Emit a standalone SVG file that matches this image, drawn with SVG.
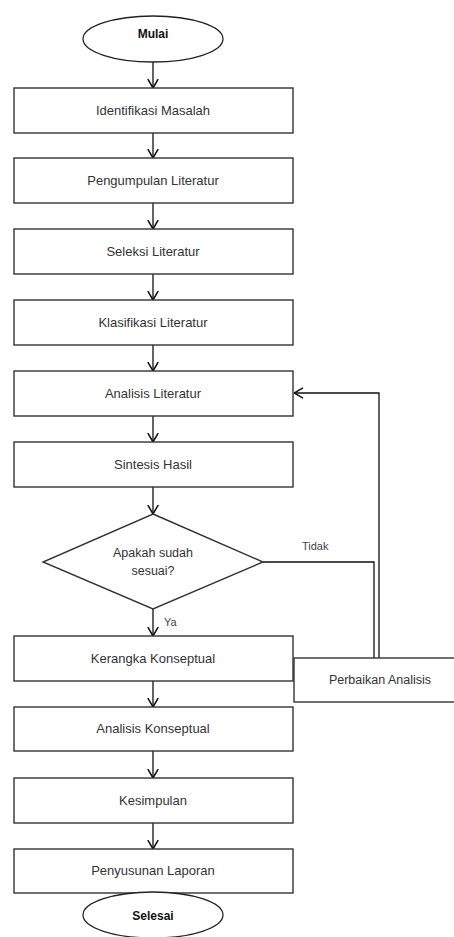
<svg xmlns="http://www.w3.org/2000/svg" width="454" height="937" viewBox="0 0 454 937">
<defs>
<style>
.box{fill:#fff;stroke:#333;stroke-width:1.4}
.term{fill:#fff;stroke:#222;stroke-width:1.3}
.lbl{font-family:"Liberation Sans",Arial,sans-serif;font-size:13px;fill:#333;text-anchor:middle}
.bold{font-family:"Liberation Sans",Arial,sans-serif;font-size:12px;font-weight:bold;fill:#111;text-anchor:middle}
.small{font-family:"Liberation Sans",Arial,sans-serif;font-size:11px;fill:#444}
.con{fill:none;stroke:#111;stroke-width:1.3}
</style>
<marker id="arr" viewBox="0 0 10 12" refX="9.5" refY="6" markerWidth="10" markerHeight="12" markerUnits="userSpaceOnUse" orient="auto">
<path d="M0.5,0.8 L9.5,6 L0.5,11.2" fill="none" stroke="#111" stroke-width="1.5"/>
</marker>
</defs>
<rect width="454" height="937" fill="#fff"/>
<g id="connectors">
<line class="con" x1="153" y1="62" x2="153" y2="88" marker-end="url(#arr)"/>
<line class="con" x1="153" y1="133" x2="153" y2="158" marker-end="url(#arr)"/>
<line class="con" x1="153" y1="203" x2="153" y2="229" marker-end="url(#arr)"/>
<line class="con" x1="153" y1="274" x2="153" y2="300" marker-end="url(#arr)"/>
<line class="con" x1="153" y1="345" x2="153" y2="371" marker-end="url(#arr)"/>
<line class="con" x1="153" y1="416" x2="153" y2="442" marker-end="url(#arr)"/>
<line class="con" x1="153" y1="487" x2="153" y2="514" marker-end="url(#arr)"/>
<line class="con" x1="153" y1="609" x2="153" y2="636" marker-end="url(#arr)"/>
<line class="con" x1="153" y1="681" x2="153" y2="707" marker-end="url(#arr)"/>
<line class="con" x1="153" y1="751" x2="153" y2="778" marker-end="url(#arr)"/>
<line class="con" x1="153" y1="823" x2="153" y2="849" marker-end="url(#arr)"/>
<polyline class="con" points="263,562 374,562 374,658"/>
<polyline class="con" points="379,658 379,393 294,393" marker-end="url(#arr)"/>
<text class="small" x="302" y="550">Tidak</text>
<text class="small" x="164" y="626">Ya</text>
</g>
<g id="mulai">
<ellipse class="term" cx="153" cy="39" rx="70" ry="23"/>
<text class="bold" x="153" y="38">Mulai</text>
</g>
<g id="identifikasi">
<rect class="box" x="14" y="88" width="279" height="45"/>
<text class="lbl" x="153" y="115">Identifikasi Masalah</text>
</g>
<g id="pengumpulan">
<rect class="box" x="14" y="158" width="279" height="45"/>
<text class="lbl" x="153" y="185">Pengumpulan Literatur</text>
</g>
<g id="seleksi">
<rect class="box" x="14" y="229" width="279" height="45"/>
<text class="lbl" x="153" y="256">Seleksi Literatur</text>
</g>
<g id="klasifikasi">
<rect class="box" x="14" y="300" width="279" height="45"/>
<text class="lbl" x="153" y="327">Klasifikasi Literatur</text>
</g>
<g id="analisis">
<rect class="box" x="14" y="371" width="279" height="45"/>
<text class="lbl" x="153" y="398">Analisis Literatur</text>
</g>
<g id="sintesis">
<rect class="box" x="14" y="442" width="279" height="45"/>
<text class="lbl" x="153" y="469">Sintesis Hasil</text>
</g>
<g id="keputusan">
<polygon class="box" points="153,514 263,562 153,609 43,562"/>
<text class="lbl" x="153" y="557" style="font-size:12.5px">Apakah sudah</text>
<text class="lbl" x="153" y="575" style="font-size:12.5px">sesuai?</text>
</g>
<g id="kerangka">
<rect class="box" x="14" y="636" width="279" height="45"/>
<text class="lbl" x="153" y="663">Kerangka Konseptual</text>
</g>
<g id="perbaikan">
<rect class="box" x="294" y="658" width="172" height="44"/>
<text class="lbl" x="380" y="684" style="font-size:12.5px">Perbaikan Analisis</text>
</g>
<g id="analisis-konseptual">
<rect class="box" x="14" y="707" width="279" height="44"/>
<text class="lbl" x="153" y="733">Analisis Konseptual</text>
</g>
<g id="kesimpulan">
<rect class="box" x="14" y="778" width="279" height="45"/>
<text class="lbl" x="153" y="805">Kesimpulan</text>
</g>
<g id="penyusunan">
<rect class="box" x="14" y="849" width="279" height="44"/>
<text class="lbl" x="153" y="875">Penyusunan Laporan</text>
</g>
<g id="selesai">
<ellipse class="term" cx="153" cy="915" rx="70" ry="23"/>
<text class="bold" x="153" y="920">Selesai</text>
</g>
</svg>
